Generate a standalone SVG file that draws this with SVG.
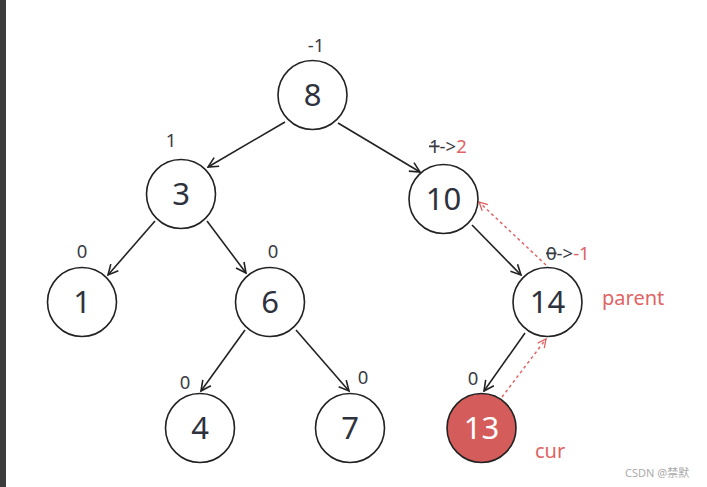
<svg xmlns="http://www.w3.org/2000/svg" width="707" height="487" viewBox="0 0 707 487">
<defs>
<marker id="arr" viewBox="0 0 12 12" refX="11" refY="6" markerWidth="12" markerHeight="12" markerUnits="userSpaceOnUse" orient="auto">
<path d="M1,1 L11,6 L1,11" fill="none" stroke="#222" stroke-width="1.6"/>
</marker>
<marker id="arrR" viewBox="0 0 12 12" refX="11" refY="6" markerWidth="10" markerHeight="10" markerUnits="userSpaceOnUse" orient="auto">
<path d="M1,1 L11,6 L1,11" fill="none" stroke="#e06464" stroke-width="1.6"/>
</marker>
</defs>
<style>
.n{fill:#fff;stroke:#222;stroke-width:1.6}
.t{font-family:"Noto Sans","Open Sans",sans-serif;font-size:31px;fill:#2e323d;text-anchor:middle}
.b{font-family:"Noto Sans","Open Sans",sans-serif;font-size:18.5px;fill:#3a3d45}
.r{fill:#e06464}
.l{font-size:20px}
.e{stroke:#222;stroke-width:1.6;fill:none;marker-end:url(#arr)}
.d{stroke:#e06464;stroke-width:1.5;stroke-dasharray:3 3;fill:none;marker-end:url(#arrR)}
</style>
<rect x="0" y="0" width="707" height="487" fill="#fff"/>
<rect x="0" y="0" width="6" height="487" fill="#3c3c3c"/>
<g id="connectors">
<line class="e" x1="285" y1="122" x2="208" y2="167"/>
<line class="e" x1="338" y1="123" x2="420" y2="172"/>
<line class="e" x1="155" y1="221" x2="108" y2="275"/>
<line class="e" x1="207" y1="221" x2="246" y2="273"/>
<line class="e" x1="245" y1="330" x2="201" y2="391"/>
<line class="e" x1="296" y1="330" x2="349" y2="391"/>
<line class="e" x1="472" y1="225" x2="521" y2="275"/>
<line class="e" x1="525" y1="333" x2="484" y2="391"/>
<line class="d" x1="502" y1="397" x2="546" y2="339"/>
<line class="d" x1="546" y1="265" x2="479" y2="202"/>
</g>
<g id="node8"><circle class="n" cx="312.5" cy="95" r="34.5"/><text class="t" x="312.5" y="106">8</text><text class="b" x="316" y="52" text-anchor="middle">-1</text></g>
<g id="node3"><circle class="n" cx="181" cy="194" r="34.5"/><text class="t" x="181" y="205">3</text><text class="b" x="171" y="147" text-anchor="middle">1</text></g>
<g id="node10"><circle class="n" cx="443.5" cy="199" r="34.5"/><text class="t" x="443.5" y="210">10</text><text class="b" x="429" y="153"><tspan text-decoration="line-through">1</tspan>-&gt;<tspan class="r">2</tspan></text></g>
<g id="node1"><circle class="n" cx="82" cy="302" r="34.5"/><text class="t" x="82" y="313">1</text><text class="b" x="82" y="258" text-anchor="middle">0</text></g>
<g id="node6"><circle class="n" cx="270" cy="302" r="34.5"/><text class="t" x="270" y="313">6</text><text class="b" x="273" y="258" text-anchor="middle">0</text></g>
<g id="node14"><circle class="n" cx="547.5" cy="302" r="34.5"/><text class="t" x="547.5" y="313">14</text><text class="b" x="546" y="260"><tspan text-decoration="line-through">0</tspan>-&gt;<tspan class="r">-1</tspan></text><text class="b r l" x="602" y="305">parent</text></g>
<g id="node4"><circle class="n" cx="200" cy="428" r="34.5"/><text class="t" x="200" y="439">4</text><text class="b" x="185" y="389" text-anchor="middle">0</text></g>
<g id="node7"><circle class="n" cx="350" cy="428" r="34.5"/><text class="t" x="350" y="439">7</text><text class="b" x="363" y="384" text-anchor="middle">0</text></g>
<g id="node13"><circle cx="481.5" cy="428" r="34.5" fill="#d45c5a" stroke="#222" stroke-width="1.6"/><text class="t" x="481.5" y="439" style="fill:#fff">13</text><text class="b" x="473" y="385" text-anchor="middle">0</text><text class="b r l" x="535" y="458">cur</text></g>
<text x="625" y="477" font-family="'Noto Sans','Noto Sans CJK SC',sans-serif" font-size="11" fill="#aaa">CSDN @禁默</text>
</svg>
